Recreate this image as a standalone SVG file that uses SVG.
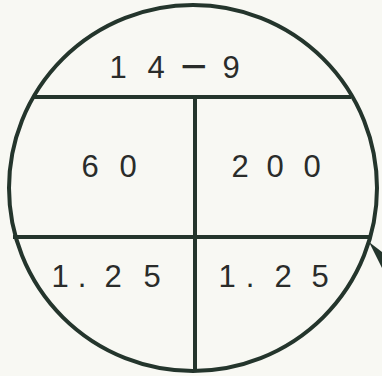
<svg xmlns="http://www.w3.org/2000/svg" width="382" height="376" viewBox="0 0 382 376">
<style>
.ln{stroke:#24352c;stroke-width:4;fill:none}
.t{font-family:"Liberation Sans",Arial,sans-serif;font-size:31px;fill:#2a2c2a;text-anchor:middle}
</style>
<rect width="382" height="376" fill="#f8f8f3"/>
<g id="connectors">
<line class="ln" x1="34" y1="97" x2="351" y2="97"/>
<line class="ln" x1="195" y1="97" x2="195" y2="372"/>
<line class="ln" x1="13" y1="237" x2="371" y2="237"/>
<polygon points="369,242 382,252 382,268" fill="#24352c"/>
</g>
<g id="circle"><ellipse class="ln" cx="193" cy="188" rx="184" ry="183"/></g>
<g id="top"><text class="t"><tspan x="118 156" y="78">14</tspan><tspan x="194" y="82" style="font-size:46px">−</tspan><tspan x="231" y="78">9</tspan></text></g>
<g id="mid-left"><text class="t"><tspan x="90 128" y="177">60</tspan></text></g>
<g id="mid-right"><text class="t"><tspan x="240 275 312" y="177">200</tspan></text></g>
<g id="bot-left"><text class="t"><tspan x="60 82 113 152" y="287">1.25</tspan></text></g>
<g id="bot-right"><text class="t"><tspan x="227 250 283 320" y="287">1.25</tspan></text></g>
</svg>
